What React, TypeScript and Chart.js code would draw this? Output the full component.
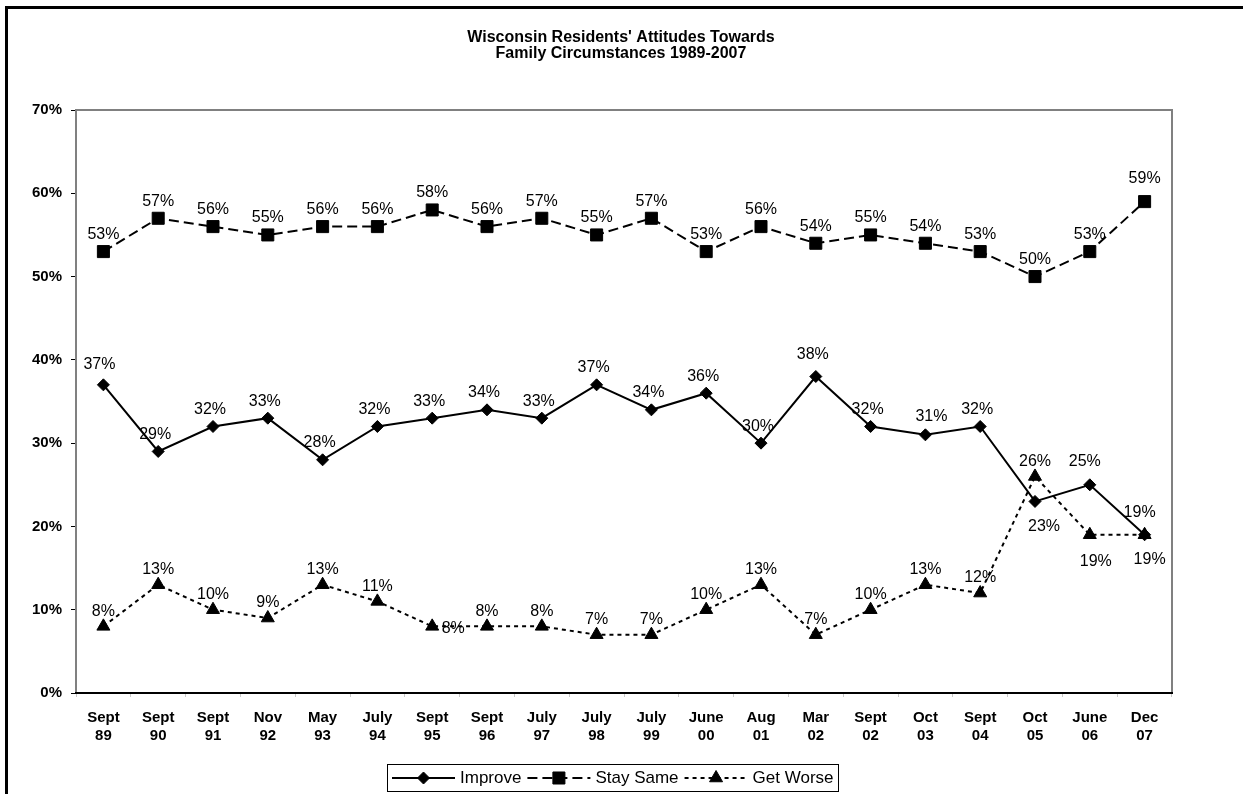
import React, { useEffect, useRef } from 'react';
import { Chart, registerables } from 'chart.js';
import { drawPoint } from 'chart.js/helpers';

Chart.register(...registerables);

const categories: string[][] = [
  ['Sept', '89'], ['Sept', '90'], ['Sept', '91'], ['Nov', '92'], ['May', '93'],
  ['July', '94'], ['Sept', '95'], ['Sept', '96'], ['July', '97'], ['July', '98'],
  ['July', '99'], ['June', '00'], ['Aug', '01'], ['Mar', '02'], ['Sept', '02'],
  ['Oct', '03'], ['Sept', '04'], ['Oct', '05'], ['June', '06'], ['Dec', '07'],
];
const improve = [37, 29, 32, 33, 28, 32, 33, 34, 33, 37, 34, 36, 30, 38, 32, 31, 32, 23, 25, 19];
const staySame = [53, 57, 56, 55, 56, 56, 58, 56, 57, 55, 57, 53, 56, 54, 55, 54, 53, 50, 53, 59];
const getWorse = [8, 13, 10, 9, 13, 11, 8, 8, 8, 7, 7, 10, 13, 7, 10, 13, 12, 26, 19, 19];
const yTicks = [0, 10, 20, 30, 40, 50, 60, 70];
const seriesNames = ['Improve', 'Stay Same', 'Get Worse'];
const titleLines = ["Wisconsin Residents' Attitudes Towards", 'Family Circumstances 1989-2007'];

// label placement (offset from the point, in px)
const labelDefaults = [
  { dx: -3, dy: -17 },
  { dx: 0, dy: -17 },
  { dx: 0, dy: -15 },
];
const labelOverrides: Record<string, { dx: number; dy: number }> = {
  '0-0': { dx: -4, dy: -20 },
  '0-13': { dx: -3, dy: -22 },
  '0-15': { dx: 6, dy: -18 },
  '0-17': { dx: 9, dy: 25 },
  '0-18': { dx: -5, dy: -23 },
  '0-19': { dx: -5, dy: -22 },
  '1-19': { dx: 0, dy: -23 },
  '2-6': { dx: 21, dy: 2 },
  '2-18': { dx: 6, dy: 27 },
  '2-19': { dx: 5, dy: 25 },
};

const FONT = '"Liberation Sans", Arial, Helvetica, sans-serif';

const styles = [
  { pointStyle: 'rectRot', radius: 6, dash: [] as number[] },
  { pointStyle: 'rect', radius: 8.5, dash: [10, 5] },
  { pointStyle: 'triangle', radius: 7.5, dash: [4, 4] },
];

const decorPlugin = {
  id: 'decor',
  beforeDraw(chart: any) {
    const ctx = chart.ctx;
    ctx.save();
    ctx.fillStyle = '#ffffff';
    ctx.fillRect(0, 0, chart.width, chart.height);
    // outer frame
    ctx.fillStyle = '#000000';
    ctx.fillRect(5, 6, 3, chart.height - 6);
    ctx.fillRect(5, 6, chart.width - 5, 3);
    // title
    ctx.font = `bold 16px ${FONT}`;
    ctx.textAlign = 'center';
    ctx.textBaseline = 'middle';
    ctx.fillText(titleLines[0], 621, 38);
    ctx.fillText(titleLines[1], 621, 54);
    ctx.restore();
  },
  beforeDatasetsDraw(chart: any) {
    const { ctx, chartArea } = chart;
    const { left, top, right, bottom } = chartArea;
    ctx.save();
    ctx.strokeStyle = '#808080';
    ctx.lineWidth = 2;
    ctx.beginPath();
    ctx.moveTo(left, bottom);
    ctx.lineTo(left, top);
    ctx.lineTo(right, top);
    ctx.lineTo(right, bottom);
    ctx.stroke();
    ctx.strokeStyle = '#000000';
    ctx.beginPath();
    ctx.moveTo(left - 1, bottom);
    ctx.lineTo(right + 1, bottom);
    ctx.stroke();
    ctx.restore();
  },
  afterDatasetsDraw(chart: any) {
    const ctx = chart.ctx;
    ctx.save();
    ctx.font = `16px ${FONT}`;
    ctx.fillStyle = '#000000';
    ctx.textAlign = 'center';
    ctx.textBaseline = 'middle';
    chart.data.datasets.forEach((ds: any, di: number) => {
      const meta = chart.getDatasetMeta(di);
      meta.data.forEach((pt: any, i: number) => {
        const off = labelOverrides[`${di}-${i}`] || labelDefaults[di];
        ctx.fillText(`${ds.data[i]}%`, pt.x + off.dx, pt.y + off.dy);
      });
    });
    ctx.restore();
  },
  afterDraw(chart: any) {
    const ctx = chart.ctx;
    ctx.save();
    ctx.font = `17px ${FONT}`;
    const sampleW = 63;
    const gapBefore = 5;
    const gapAfter = 6;
    const pad = 5;
    const widths = seriesNames.map((n) => ctx.measureText(n).width);
    let total = pad * 2;
    widths.forEach((w, i) => {
      total += sampleW + gapBefore + w + (i < widths.length - 1 ? gapAfter : 0);
    });
    const boxLeft = 387;
    const boxTop = 764;
    const boxH = 27;
    ctx.fillStyle = '#ffffff';
    ctx.fillRect(boxLeft, boxTop, total, boxH);
    ctx.strokeStyle = '#000000';
    ctx.lineWidth = 1;
    ctx.strokeRect(Math.round(boxLeft) + 0.5, boxTop + 0.5, Math.round(total), boxH);
    const cy = boxTop + boxH / 2 + 0.5;
    let x = boxLeft + pad;
    seriesNames.forEach((name, i) => {
      const st = styles[i];
      ctx.strokeStyle = '#000000';
      ctx.lineWidth = 2;
      ctx.setLineDash(st.dash);
      ctx.beginPath();
      ctx.moveTo(x, cy);
      ctx.lineTo(x + sampleW, cy);
      ctx.stroke();
      ctx.setLineDash([]);
      ctx.fillStyle = '#000000';
      ctx.lineWidth = 1;
      drawPoint(ctx, { pointStyle: st.pointStyle as any, rotation: 0, radius: st.radius, borderWidth: 1 }, x + sampleW / 2, cy);
      x += sampleW + gapBefore;
      ctx.fillStyle = '#000000';
      ctx.textAlign = 'left';
      ctx.textBaseline = 'middle';
      ctx.fillText(name, x, cy);
      x += widths[i] + gapAfter;
    });
    ctx.restore();
  },
};

export default function App() {
  const canvasRef = useRef<HTMLCanvasElement | null>(null);

  useEffect(() => {
    const canvas = canvasRef.current;
    if (!canvas) return;
    const seriesData = [improve, staySame, getWorse];
    const chart = new Chart(canvas, {
      type: 'line',
      data: {
        labels: categories,
        datasets: seriesData.map((d, i) => ({
          label: seriesNames[i],
          data: d,
          borderColor: '#000000',
          backgroundColor: '#000000',
          borderWidth: 2,
          borderDash: styles[i].dash,
          pointStyle: styles[i].pointStyle as any,
          pointRadius: styles[i].radius,
          pointHoverRadius: styles[i].radius,
          pointBackgroundColor: '#000000',
          pointBorderColor: '#000000',
          pointBorderWidth: 1,
          tension: 0,
          fill: false,
        })),
      },
      options: {
        animation: false,
        responsive: false,
        devicePixelRatio: 1,
        events: [],
        layout: { padding: { left: 0, top: 110, right: 71, bottom: 41 } },
        plugins: {
          legend: { display: false },
          title: { display: false },
          tooltip: { enabled: false },
        },
        scales: {
          x: {
            type: 'category',
            offset: true,
            grid: {
              display: true,
              offset: true,
              drawOnChartArea: false,
              drawTicks: true,
              tickLength: 4,
              color: '#c8c8c8',
            },
            border: { display: false },
            ticks: {
              color: '#000000',
              font: { family: FONT, size: 15, weight: 'bold', lineHeight: 1.2 },
              padding: 12,
              maxRotation: 0,
              autoSkip: false,
            },
            afterFit(scale: any) {
              scale.height = 60;
            },
          },
          y: {
            min: 0,
            max: 70,
            afterBuildTicks(scale: any) {
              scale.ticks = yTicks.map((v) => ({ value: v }));
            },
            grid: {
              display: true,
              drawOnChartArea: false,
              drawTicks: true,
              tickLength: 5,
              color: '#000000',
            },
            border: { display: false },
            ticks: {
              color: '#000000',
              font: { family: FONT, size: 15, weight: 'bold' },
              padding: 9,
              callback: (v: any) => `${v}%`,
            },
            afterFit(scale: any) {
              scale.width = 76;
            },
          },
        },
      },
      plugins: [decorPlugin],
    });
    return () => chart.destroy();
  }, []);

  return (
    <div style={{ position: 'absolute', left: 0, top: 0, width: 1243, height: 794, overflow: 'hidden' }}>
      <canvas ref={canvasRef} width={1243} height={794} style={{ display: 'block', width: 1243, height: 794 }} />
    </div>
  );
}
